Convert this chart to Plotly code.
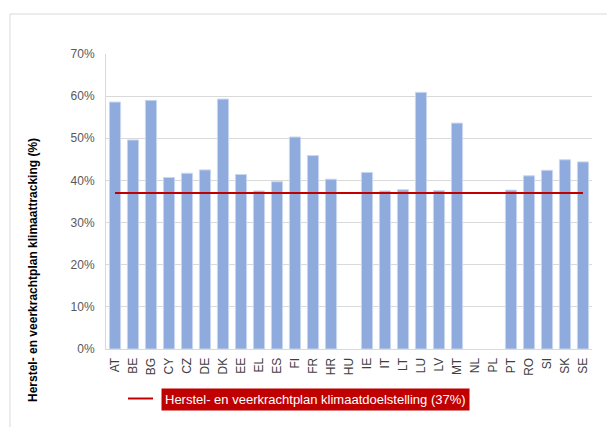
import plotly.graph_objects as go

# Member states and their climate tracking share (%)
countries = ["AT", "BE", "BG", "CY", "CZ", "DE", "DK", "EE", "EL", "ES", "FI", "FR", "HR", "HU",
             "IE", "IT", "LT", "LU", "LV", "MT", "NL", "PL", "PT", "RO", "SI", "SK", "SE"]
tracking = [58.6, 49.6, 59.0, 40.7, 41.7, 42.5, 59.3, 41.4, 37.5, 39.7, 50.3, 45.9, 40.3, None,
            41.9, 37.5, 37.8, 60.9, 37.6, 53.6, None, None, 37.7, 41.1, 42.4, 44.9, 44.4]
target = 37
target_label = "Herstel- en veerkrachtplan klimaatdoelstelling (37%)"
y_title = "Herstel- en veerkrachtplan klimaattracking (%)"
y_ticks = [0, 10, 20, 30, 40, 50, 60, 70]

W, H = 607, 427
L, R, T, B = 106, 15, 54, 78
pw, ph = W - L - R, H - T - B


def px_x(p):
    return (p - L) / pw


def px_y(p):
    return (H - B - p) / ph


bar_color = "#8faadc"
red = "#c00000"
font = "Liberation Sans"

fig = go.Figure()
fig.add_trace(go.Bar(
    x=countries, y=tracking,
    marker=dict(color=bar_color, line=dict(color="#c9d7f0", width=1)),
    showlegend=False,
))
fig.add_trace(go.Scatter(
    x=countries, y=[target] * len(countries), mode="lines",
    line=dict(color=red, width=2), showlegend=False,
))

shapes = [
    # outer chart frame
    dict(type="rect", xref="paper", yref="paper",
         x0=px_x(10), x1=px_x(640), y0=px_y(460), y1=px_y(14),
         line=dict(color="#d9d9d9", width=1), fillcolor="rgba(0,0,0,0)", layer="below"),
    # legend key
    dict(type="line", xref="paper", yref="paper",
         x0=px_x(128), x1=px_x(153), y0=px_y(398.5), y1=px_y(398.5),
         line=dict(color=red, width=2)),
]

annotations = [
    dict(text=target_label, xref="paper", yref="paper",
         x=px_x(161), y=px_y(399), xanchor="left", yanchor="middle",
         showarrow=False, bgcolor=red, borderpad=3,
         font=dict(family=font, size=13, color="white")),
    dict(text="<b>" + y_title + "</b>", xref="paper", yref="paper",
         x=px_x(33), y=px_y(270), xanchor="center", yanchor="middle",
         textangle=-90, showarrow=False,
         font=dict(family=font, size=12, color="black")),
]

fig.update_layout(
    width=W, height=H,
    margin=dict(l=L, r=R, t=T, b=B),
    paper_bgcolor="white", plot_bgcolor="white",
    bargap=0.38,
    shapes=shapes, annotations=annotations,
    font=dict(family=font, size=12, color="#595959"),
)
fig.update_xaxes(
    tickangle=-90, showgrid=False, showline=True, linecolor="#d9d9d9", linewidth=1,
    ticks="", ticklabelstandoff=3, tickfont=dict(size=12, color="#404040"),
)
fig.update_yaxes(
    range=[0, 70], tickvals=y_ticks, ticktext=[f"{v}%" for v in y_ticks],
    showgrid=True, gridcolor="#d9d9d9", gridwidth=1,
    showline=True, linecolor="#d9d9d9", zeroline=False,
    ticks="", ticklen=0, ticklabelstandoff=8, tickfont=dict(size=12, color="#595959"),
)

fig.write_html("out.html")
